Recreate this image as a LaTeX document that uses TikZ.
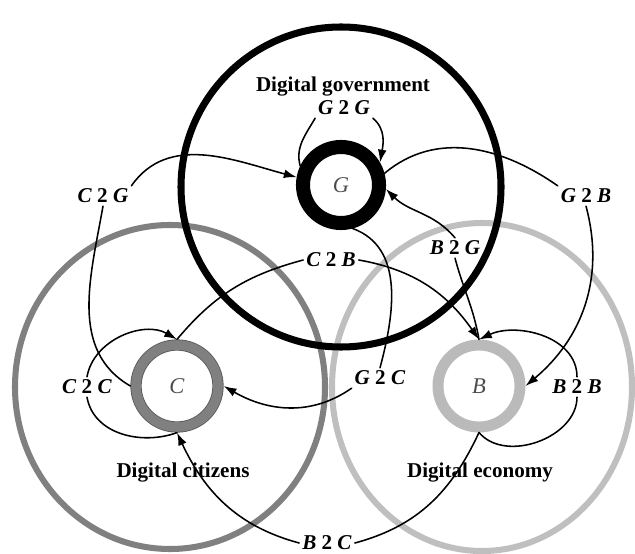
\documentclass[tikz,border=0pt]{standalone}
\usepackage{fontspec}
\setmainfont{Liberation Serif}
\usetikzlibrary{arrows.meta}

\begin{document}
\begin{tikzpicture}[x=0.025cm,y=0.025cm,>={Latex[length=3.2mm,width=2.2mm]},line cap=round,
  flow/.style={line width=1.1pt},
  tag/.style={font=\fontsize{15}{17}\selectfont\bfseries,inner sep=2pt},
  sector/.style={font=\fontsize{15}{17}\selectfont\bfseries,inner sep=1pt},
  hubg/.style={circle,draw=black,line width=10pt,minimum size=1.9cm,inner sep=0pt,text=black!70,font=\fontsize{16}{18}\selectfont\itshape},
  hubc/.style={circle,draw=black!65,double=black!50,double distance=6.8pt,line width=0.6pt,outer sep=4pt,minimum size=2.05cm,inner sep=0pt,text=black!70,font=\fontsize{16}{18}\selectfont\itshape},
  hubb/.style={circle,draw=black!27,line width=7.8pt,minimum size=2.05cm,inner sep=0pt,text=black!70,font=\fontsize{16}{18}\selectfont\itshape}]
\useasboundingbox (0,0) rectangle (635,553);
\draw[black!50,line width=4.3pt] (170,166) ellipse [x radius=155,y radius=162];
\draw[black!25,line width=4.3pt] (482,166) ellipse [x radius=150,y radius=164];
\draw[black,line width=5pt] (341,366) ellipse [x radius=160,y radius=160];

\node[hubg] (G) at (341,368) {G};
\node[hubc] (C) at (177,167) {C};
\node[hubb] (B) at (479,167) {B};

\node[sector] (govt) at (343,466) {Digital government};
\node[sector] (citz) at (183,80) {Digital citizens};
\node[sector] (econ) at (480,80) {Digital economy};

\node[tag] (g2g) at (344,445) {\textit{G} 2 \textit{G}};
\node[tag] (c2g) at (103,357) {\textit{C} 2 \textit{G}};
\node[tag] (g2b) at (586,357) {\textit{G} 2 \textit{B}};
\node[tag] (c2b) at (331,293) {\textit{C} 2 \textit{B}};
\node[tag] (b2g) at (455,305) {\textit{B} 2 \textit{G}};
\node[tag] (c2c) at (87,166) {\textit{C} 2 \textit{C}};
\node[tag] (g2c) at (380,175) {\textit{G} 2 \textit{C}};
\node[tag] (b2b) at (577,166) {\textit{B} 2 \textit{B}};
\node[tag] (b2c) at (327,10) {\textit{B} 2 \textit{C}};

\draw[flow] (G.155) to[out=105,in=240] (g2g.south west);
\draw[flow,->] (g2g.south east) to[out=-40,in=80] (G.30);
\draw[flow] (C.west) to[out=150,in=260] (c2g.south);
\draw[flow,->] (c2g.north east) to[out=55,in=165] (G.170);
\draw[flow] (G.15) to[out=40,in=145] (g2b.north west);
\draw[flow,->] (g2b.south) to[out=-75,in=40] (B.east);
\draw[flow] (B.north) to[out=100,in=-75] (b2g.south);
\draw[flow,->] (b2g.north) to[out=130,in=-45] (G.-5);
\draw[flow] (C.north) to[out=50,in=195] (c2b.west);
\draw[flow,->] (c2b.east) to[out=-10,in=125] (B.north);
\draw[flow] (G.-75) to[out=-20,in=75] (g2c.north);
\draw[flow,->] (g2c.south west) to[out=-145,in=-30] (C.east);
\draw[flow] (C.south) to[out=200,in=-80] (c2c.south);
\draw[flow,->] (c2c.north) to[out=80,in=150] (C.north);
\draw[flow] (B.south) to[out=-115,in=15] (b2c.east);
\draw[flow,->] (b2c.west) to[out=165,in=-65] (C.south);
\draw[flow] (B.south) to[out=-50,in=-90] (b2b.south);
\draw[flow,->] (b2b.north) to[out=90,in=25] (B.north);
\end{tikzpicture}
\end{document}
